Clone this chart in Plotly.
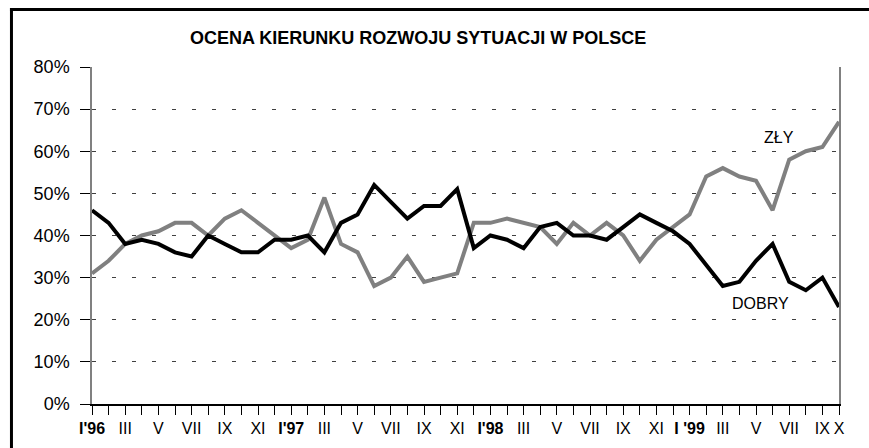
import plotly.graph_objects as go

months = ["I'96", "II", "III", "IV", "V", "VI", "VII", "VIII", "IX", "X", "XI", "XII",
          "I'97", "II", "III", "IV", "V", "VI", "VII", "VIII", "IX", "X", "XI", "XII",
          "I'98", "II", "III", "IV", "V", "VI", "VII", "VIII", "IX", "X", "XI", "XII",
          "I '99", "II", "III", "IV", "V", "VI", "VII", "VIII", "IX", "X"]

tick_labels = ["<b>I'96</b>", "", "III", "", "V", "", "VII", "", "IX", "", "XI", "",
               "<b>I'97</b>", "", "III", "", "V", "", "VII", "", "IX", "", "XI", "",
               "<b>I'98</b>", "", "III", "", "V", "", "VII", "", "IX", "", "XI", "",
               "<b>I '99</b>", "", "III", "", "V", "", "VII", "", "IX", "X"]

dobry = [46, 43, 38, 39, 38, 36, 35, 40, 38, 36, 36, 39,
         39, 40, 36, 43, 45, 52, 48, 44, 47, 47, 51, 37,
         40, 39, 37, 42, 43, 40, 40, 39, 42, 45, 43, 41,
         38, 33, 28, 29, 34, 38, 29, 27, 30, 23]

zly = [31, 34, 38, 40, 41, 43, 43, 40, 44, 46, 43, 40,
       37, 39, 49, 38, 36, 28, 30, 35, 29, 30, 31, 43,
       43, 44, 43, 42, 38, 43, 40, 43, 40, 34, 39, 42,
       45, 54, 56, 54, 53, 46, 58, 60, 61, 67]

y_ticks = [0, 10, 20, 30, 40, 50, 60, 70, 80]
y_tick_text = [f"{v}%" for v in y_ticks]

x = list(range(len(months)))
FONT = "Liberation Sans, Arial, sans-serif"

fig = go.Figure()
fig.add_trace(go.Scatter(x=x, y=zly, mode="lines", name="ZŁY",
                         line=dict(color="#808080", width=4), cliponaxis=False))
fig.add_trace(go.Scatter(x=x, y=dobry, mode="lines", name="DOBRY",
                         line=dict(color="#000000", width=4), cliponaxis=False))

W, H = 869, 448
L, T = 92, 67
R = W - 838.7
B = H - 404
pw, ph = W - L - R, H - T - B

def px(xs):  # screen x -> paper
    return (xs - L) / pw

def py(ys):  # screen y -> paper
    return (H - B - ys) / ph

def dx(xs):
    return (xs - L) / (pw / 45)

def dy(ys):
    return (H - B - ys) / (ph / 80)

frame = dict(color="black", width=3)

fig.update_layout(
    width=W, height=H,
    margin=dict(l=L, r=R, t=T, b=B, autoexpand=False),
    paper_bgcolor="white", plot_bgcolor="white",
    showlegend=False,
    font=dict(family=FONT, color="black"),
    xaxis=dict(range=[0, 45], tickmode="array", tickvals=x, ticktext=tick_labels,
               ticks="outside", ticklen=9, tickcolor="black", tickwidth=1,
               showline=True, linecolor="black", linewidth=1.5,
               showgrid=False, zeroline=False, automargin=False,
               tickfont=dict(size=16, family=FONT, color="black"), tickangle=0),
    yaxis=dict(range=[0, 80], tickmode="array", tickvals=y_ticks, ticktext=y_tick_text,
               ticks="outside", ticklen=10, tickcolor="black", tickwidth=1,
               ticklabelstandoff=7, automargin=False,
               showline=True, linecolor="#808080", linewidth=1.5, mirror=True,
               showgrid=True, gridcolor="#404040", gridwidth=1, griddash="4px,16px",
               zeroline=False,
               tickfont=dict(size=18, family=FONT, color="black")),
    shapes=[
        dict(type="line", xref="paper", yref="paper",
             x0=px(10), x1=px(869), y0=py(9.5), y1=py(9.5), line=frame, layer="above"),
        dict(type="line", xref="paper", yref="paper",
             x0=px(11.5), x1=px(11.5), y0=py(8), y1=py(448), line=frame, layer="above"),
    ],
    annotations=[
        dict(text="<b>OCENA KIERUNKU ROZWOJU SYTUACJI W POLSCE</b>", xref="paper", yref="paper",
             x=px(418), y=py(38), xanchor="center", yanchor="middle", showarrow=False,
             font=dict(size=18, family=FONT, color="black")),
        dict(text="ZŁY", xref="x", yref="y", x=dx(779), y=dy(137.5),
             xanchor="center", yanchor="middle", showarrow=False,
             font=dict(size=16, family=FONT, color="black")),
        dict(text="DOBRY", xref="x", yref="y", x=dx(760), y=dy(303),
             xanchor="center", yanchor="middle", showarrow=False,
             font=dict(size=16, family=FONT, color="black")),
    ],
)

fig.write_html("out.html",
               config={"displayModeBar": False, "staticPlot": False},
               post_script="document.body.style.margin='0';document.body.style.overflow='hidden';")
